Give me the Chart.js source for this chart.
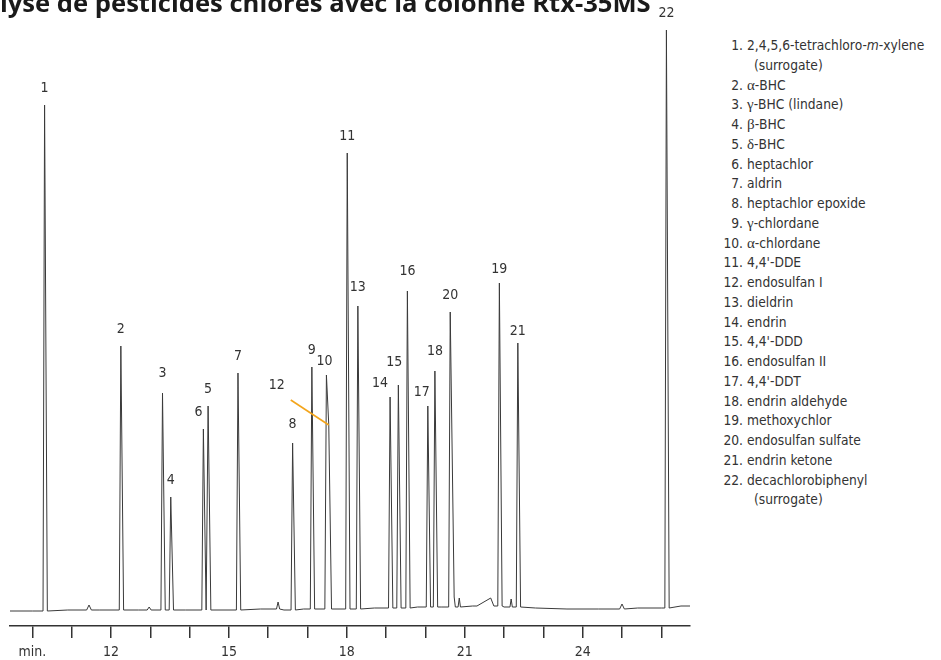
<!DOCTYPE html>
<html>
<head>
<meta charset="utf-8">
<script src="https://cdn.jsdelivr.net/npm/chart.js@4.4.1/dist/chart.umd.min.js"></script>
<style>
  body { margin: 0; background: #fff; width: 941px; height: 660px; overflow: hidden; position: relative;
         font-family: "Liberation Sans Narrow", "DejaVu Sans Condensed", sans-serif; color: #333; }
  #wrap { position: absolute; left: 0; top: 0; width: 700px; height: 660px; }
  #legend { position: absolute; left: 719px; top: 36px; font-size: 13.7px; line-height: 19.75px; white-space: nowrap; }
  #legend .n { display: inline-block; width: 24px; text-align: right; margin-right: 4px; }
  #legend .ind { padding-left: 35px; }
  .g { font-family: "Liberation Serif", serif; font-size: 15px; }
</style>
</head>
<body>
<div id="wrap"><canvas id="c" width="700" height="660"></canvas></div>
<div id="legend"></div>
<script>
// chromatogram, Rtx-35MS
var TITLE = 'Analyse de pesticides chlorés avec la colonne Rtx-35MS';

var COMPOUNDS = [
  '2,4,5,6-tetrachloro-m-xylene\n(surrogate)', 'α-BHC', 'γ-BHC (lindane)', 'β-BHC', 'δ-BHC',
  'heptachlor', 'aldrin', 'heptachlor epoxide', 'γ-chlordane', 'α-chlordane', '4,4\'-DDE',
  'endosulfan I', 'dieldrin', 'endrin', '4,4\'-DDD', 'endosulfan II', '4,4\'-DDT',
  'endrin aldehyde', 'methoxychlor', 'endosulfan sulfate', 'endrin ketone',
  'decachlorobiphenyl\n(surrogate)'
];

// retention time (min) and signal at the apex, peaks 1..22
var PEAK_TIMES  = [10.31, 12.25, 13.31, 13.52, 14.47, 14.35, 15.23, 16.62, 17.11, 17.48, 18.01,
                   17.54, 18.28, 19.10, 19.31, 19.54, 20.06, 20.24, 21.88, 20.63, 22.35, 26.13];
var PEAK_SIGNAL = [521, 280, 233, 129, 220, 197, 253, 183, 259, 251, 473,
                   201, 320, 229, 241, 335, 220, 255, 343, 314, 283, 596];

// small unlabelled bumps
var MINOR_TIMES   = [11.44, 12.97, 16.25, 20.73, 20.86, 21.66, 22.18, 25.00];
var MINOR_HEIGHTS = [5, 3, 7, 10, 9, 8, 8, 5];
var MINOR_LEFT    = [0.06, 0.05, 0.04, 0.03, 0.03, 0.35, 0.03, 0.06];
var MINOR_RIGHT   = [0.06, 0.05, 0.04, 0.03, 0.03, 0.08, 0.03, 0.06];

// baseline read between peaks
var BASE_TIMES  = [9.43, 10.0, 10.9, 11.7, 12.7, 13.9, 14.9, 15.8, 16.4, 16.9, 17.8, 18.7,
                   19.8, 20.4, 21.2, 22.0, 22.8, 23.6, 24.4, 25.4, 26.0, 26.5, 26.73];
var BASE_VALUES = [15, 15, 16, 16, 16, 16, 16, 17, 16, 17, 17, 18,
                   19, 19, 20, 19, 18, 17, 17, 18, 18, 20, 20];

var TICK_VALUES = [10, 11, 12, 13, 14, 15, 16, 17, 18, 19, 20, 21, 22, 23, 24, 25, 26];
var TICK_LABELS = ['min.', '', '12', '', '', '15', '', '', '18', '', '', '21', '', '', '24', '', ''];

var X_MIN = 9.43, X_MAX = 26.73;
var PEAK_LEFT = 0.04, PEAK_RIGHT = 0.07;

// label placement tweaks [dx, dy] in px
var LABEL_NUDGE = { 3: [0, -3], 6: [-5, 0], 8: [0, -2], 10: [-2, 3], 13: [0, -2], 14: [-10, 3],
                    15: [-4, -6], 16: [0, -3], 17: [-6, 3], 18: [0, -3], 19: [0, 3], 21: [0, 5],
                    12: [-52, -23] };

var FONT = '"Liberation Sans Narrow", "DejaVu Sans Condensed", sans-serif';

function baseAt(t) {
  var v = BASE_VALUES[0];
  for (var i = 0; i < BASE_TIMES.length; i++) if (BASE_TIMES[i] <= t) v = BASE_VALUES[i];
  return v;
}

var spikes = [];
PEAK_TIMES.forEach(function (t, i) {
  spikes.push({ t: t, top: PEAK_SIGNAL[i], wl: PEAK_LEFT, wr: PEAK_RIGHT });
});
MINOR_TIMES.forEach(function (t, i) {
  spikes.push({ t: t, top: baseAt(t) + MINOR_HEIGHTS[i], wl: MINOR_LEFT[i], wr: MINOR_RIGHT[i] });
});
spikes.sort(function (a, b) { return a.t - b.t; });

var trace = [];
BASE_TIMES.forEach(function (t, i) { trace.push({ x: t, y: BASE_VALUES[i] }); });
spikes.forEach(function (s, i) {
  var prev = spikes[i - 1], next = spikes[i + 1];
  if (!prev || prev.t + prev.wr < s.t - s.wl) trace.push({ x: s.t - s.wl, y: baseAt(s.t) });
  trace.push({ x: s.t, y: s.top });
  if (!next || s.t + s.wr < next.t - next.wl) trace.push({ x: s.t + s.wr, y: baseAt(s.t) });
});
trace.sort(function (a, b) { return a.x - b.x; });

var peakLabels = {
  id: 'peakLabels',
  afterDatasetsDraw: function (chart) {
    var ctx = chart.ctx, x = chart.scales.x, y = chart.scales.y;
    ctx.save();
    ctx.font = 'bold 25.6px "Open Sans", sans-serif';
    ctx.fillStyle = '#1a1a1a';
    ctx.textBaseline = 'alphabetic';
    ctx.textAlign = 'left';
    ctx.fillText(TITLE, -ctx.measureText('Ana').width, 12);

    ctx.font = '14px ' + FONT;
    ctx.fillStyle = '#333';
    ctx.textAlign = 'center';
    ctx.textBaseline = 'middle';
    PEAK_TIMES.forEach(function (t, i) {
      var n = i + 1, nd = LABEL_NUDGE[n] || [0, 0];
      var px = x.getPixelForValue(t), py = y.getPixelForValue(PEAK_SIGNAL[i]);
      var lx = px + nd[0], ly = py - 17 + nd[1];
      ctx.fillText(String(n), lx, ly);
      if (n === 12) {
        ctx.strokeStyle = '#f3a51c';
        ctx.lineWidth = 1.6;
        ctx.beginPath();
        ctx.moveTo(lx + 14, ly + 15);
        ctx.lineTo(px, py);
        ctx.stroke();
      }
    });
    ctx.restore();
  }
};

new Chart(document.getElementById('c'), {
  type: 'line',
  data: { datasets: [{ data: trace, borderColor: '#3a3a3a', borderWidth: 1, pointRadius: 0, tension: 0, fill: false }] },
  options: {
    responsive: false,
    animation: false,
    events: [],
    layout: { padding: { top: 20, left: 10, right: 10, bottom: 0 } },
    plugins: { legend: { display: false }, tooltip: { enabled: false } },
    scales: {
      x: {
        type: 'linear', min: X_MIN, max: X_MAX,
        afterBuildTicks: function (s) { s.ticks = TICK_VALUES.map(function (v) { return { value: v }; }); },
        afterFit: function (s) { s.height = 34; },
        ticks: {
          autoSkip: false, maxRotation: 0, padding: 6, color: '#333',
          font: { family: FONT, size: 14 },
          callback: function (v, i) { return TICK_LABELS[i]; }
        },
        grid: { drawOnChartArea: false, drawTicks: true, tickLength: 12, color: '#333', lineWidth: 1.5 },
        border: { display: true, color: '#333', width: 1.5 }
      },
      y: { display: false, min: 0, max: 606 }
    }
  },
  plugins: [peakLabels]
});

// legend list on the right
var leg = document.getElementById('legend');
COMPOUNDS.forEach(function (c, i) {
  var lines = c.split('\n');
  var txt = lines[0].replace(/[αβγδ]/g, function (g) { return '<span class="g">' + g + '</span>'; })
                    .replace('m-xylene', '<i>m</i>-xylene');
  var row = document.createElement('div');
  row.innerHTML = '<span class="n">' + (i + 1) + '.</span>' + txt;
  leg.appendChild(row);
  if (lines[1]) {
    var r2 = document.createElement('div');
    r2.className = 'ind';
    r2.textContent = lines[1];
    leg.appendChild(r2);
  }
});
</script>
</body>
</html>
